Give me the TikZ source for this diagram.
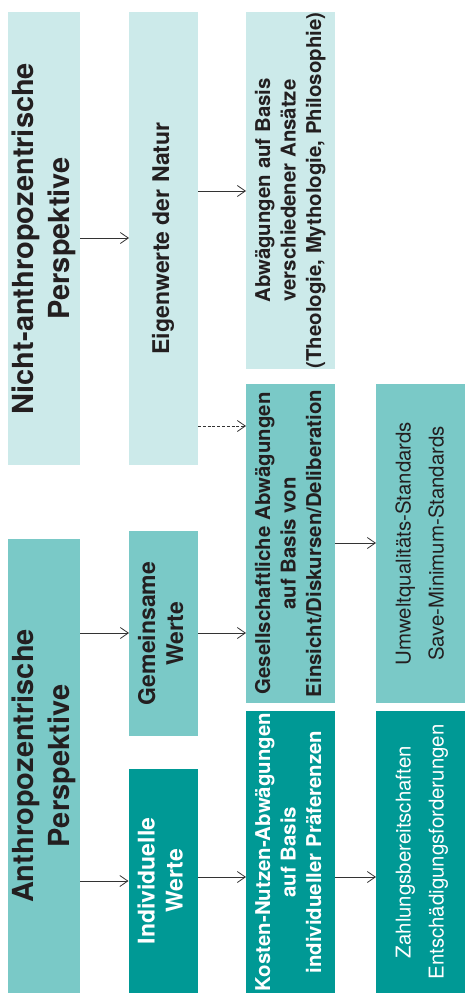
\documentclass[tikz,border=0pt]{standalone}
\usepackage{fontspec}
\setmainfont{TeX Gyre Heros}
\usepackage{graphicx}
\usetikzlibrary{arrows.meta}
\definecolor{lightc}{HTML}{CCEAEA}
\definecolor{midc}{HTML}{7AC9C7}
\definecolor{darkc}{HTML}{009995}
\definecolor{txt}{HTML}{231F20}
\definecolor{linec}{HTML}{333333}
\newcommand{\rtext}[1]{\rotatebox{90}{\begin{tabular}{@{}c@{}}#1\end{tabular}}}
\tikzset{
  box/.style={inner sep=0pt, outer sep=0pt, draw=none, text=txt},
  title/.style={box, font=\fontsize{29}{36}\selectfont\bfseries},
  second/.style={box, font=\fontsize{23}{28}\selectfont\bfseries},
  third/.style={box, font=\fontsize{20.4}{25.5}\selectfont\bfseries},
  fourth/.style={box, font=\fontsize{20.4}{33}\selectfont},
  arr/.style={draw=linec, line width=0.8pt, -{Straight Barb[length=8pt,width=11pt,line width=0.8pt]}},
  dasharr/.style={arr, dash pattern=on 3pt off 1.8pt}
}
\begin{document}
\begin{tikzpicture}[x=1pt,y=-1pt]
\useasboundingbox[fill=white] (0,0) rectangle (469,1006);
% column 1
\node[title, fill=lightc, minimum width=72pt, minimum height=453pt] (nicht) at (44,238.5)
  {\rtext{Nicht-anthropozentrische\\Perspektive}};
\node[title, fill=midc, minimum width=72pt, minimum height=454pt] (anth) at (44,766)
  {\rtext{Anthropozentrische\\Perspektive}};
% column 2
\node[second, fill=lightc, minimum width=69pt, minimum height=453pt] (eig) at (163.5,238.5)
  {\rtext{Eigenwerte der Natur}};
\node[second, fill=midc, minimum width=69pt, minimum height=205pt] (gem) at (163.5,633.5)
  {\rtext{Gemeinsame\\Werte}};
\node[second, fill=darkc, text=white, minimum width=69pt, minimum height=224pt] (ind) at (163,881)
  {\rtext{Individuelle\\Werte}};
% column 3
\node[third, fill=lightc, minimum width=89pt, minimum height=357pt] (abw) at (290.5,190.5)
  {\rtext{Abwägungen auf Basis\\verschiedener Ansätze\\(Theologie, Mythologie, Philosophie)}};
\node[third, fill=midc, minimum width=89pt, minimum height=319pt] (ges) at (290.5,543.5)
  {\rtext{Gesellschaftliche Abwägungen\\auf Basis von\\Einsicht/Diskursen/Deliberation}};
\node[third, fill=darkc, text=white, minimum width=89pt, minimum height=282pt] (kos) at (290.5,852)
  {\rtext{Kosten-Nutzen-Abwägungen\\auf Basis\\individueller Präferenzen}};
% column 4
\node[fourth, fill=midc, minimum width=89pt, minimum height=319pt] (umw) at (420.5,543.5)
  {\rtext{Umweltqualitäts-Standards\\Save-Minimum-Standards}};
\node[fourth, fill=darkc, text=white, minimum width=89pt, minimum height=282pt] (zah) at (420.5,852)
  {\rtext{Zahlungsbereitschaften\\Entschädigungsforderungen}};
% connectors
\draw[arr] (nicht.east |- 0,238) -- (eig.west |- 0,238);
\draw[arr] (eig.east |- 0,191) -- (abw.west |- 0,191);
\draw[dasharr] (eig.east |- 0,426) -- (ges.west |- 0,426);
\draw[arr] (anth.east |- 0,633) -- (gem.west |- 0,633);
\draw[arr] (anth.east |- 0,881) -- (ind.west |- 0,881);
\draw[arr] (gem.east |- 0,633) -- (ges.west |- 0,633);
\draw[arr] (ind.east |- 0,877) -- (kos.west |- 0,877);
\draw[arr] (ges.east |- 0,543) -- (umw.west |- 0,543);
\draw[arr] (kos.east |- 0,877) -- (zah.west |- 0,877);
\end{tikzpicture}
\end{document}
